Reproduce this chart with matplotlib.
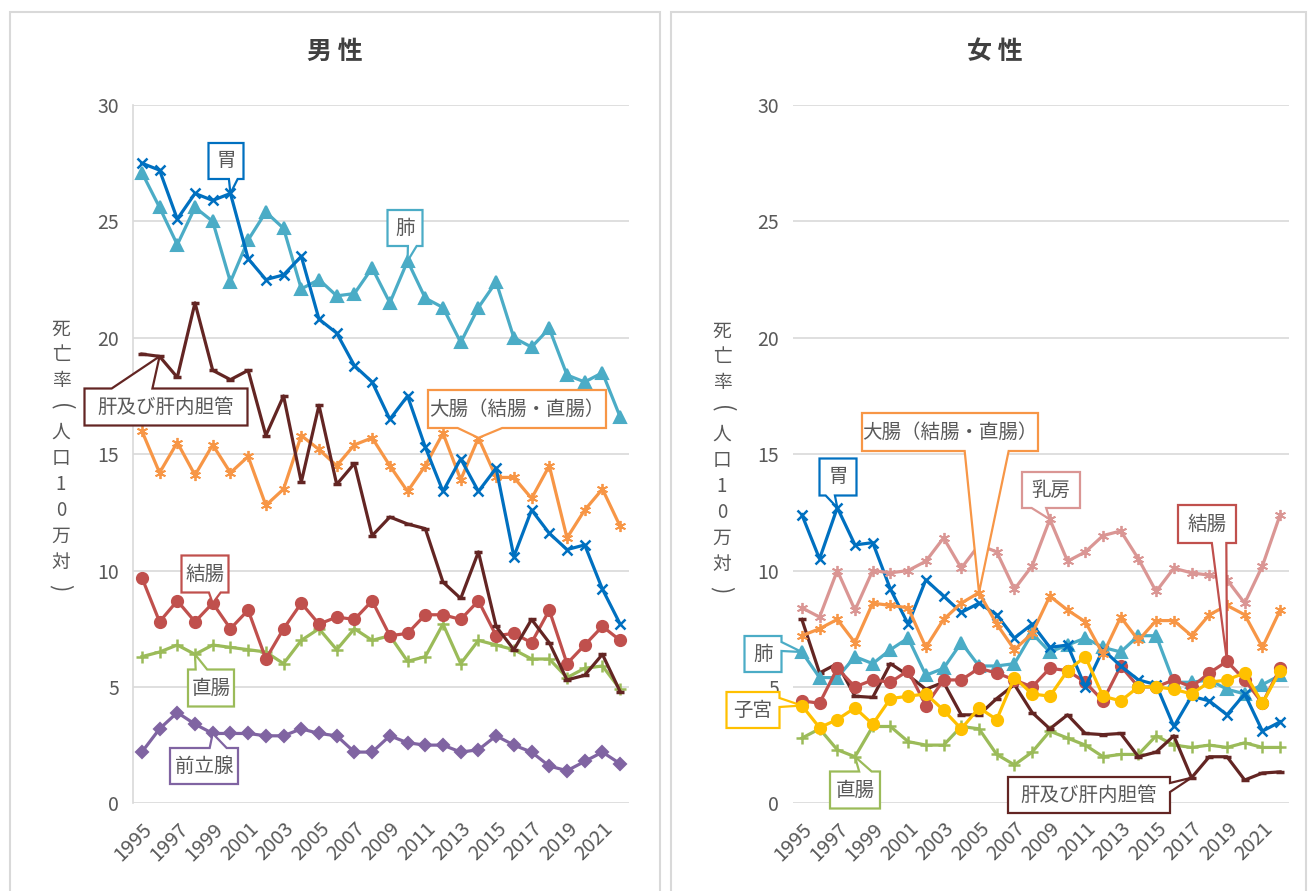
import matplotlib
matplotlib.use("Agg")
import matplotlib.pyplot as plt
from matplotlib.patches import Polygon, Rectangle

plt.rcParams['font.family'] = ['Noto Sans CJK JP', 'DejaVu Sans']

#-------------------------------------------------------------
# 部位別がん死亡率（人口10万対）
years = list(range(1995, 2023))

# 男性
m_stomach = [27.5, 27.2, 25.1, 26.2, 25.9, 26.2, 23.4, 22.5, 22.7, 23.5, 20.8, 20.2, 18.8, 18.1,
             16.5, 17.5, 15.3, 13.4, 14.8, 13.4, 14.4, 10.6, 12.6, 11.6, 10.9, 11.1, 9.2, 7.7]
m_lung = [27.1, 25.6, 24.0, 25.6, 25.0, 22.4, 24.2, 25.4, 24.7, 22.1, 22.5, 21.8, 21.9, 23.0,
          21.5, 23.3, 21.7, 21.3, 19.8, 21.3, 22.4, 20.0, 19.6, 20.4, 18.4, 18.1, 18.5, 16.6]
m_liver = [19.3, 19.2, 18.3, 21.5, 18.6, 18.2, 18.6, 15.8, 17.5, 13.8, 17.1, 13.7, 14.6, 11.5,
           12.3, 12.0, 11.8, 9.5, 8.8, 10.8, 7.6, 6.6, 7.9, 6.9, 5.3, 5.5, 6.4, 4.8]
m_colorectal = [16.0, 14.2, 15.5, 14.1, 15.4, 14.2, 14.9, 12.8, 13.5, 15.8, 15.2, 14.5, 15.4, 15.7,
                14.5, 13.4, 14.5, 15.9, 13.9, 15.7, 14.0, 14.0, 13.1, 14.5, 11.4, 12.6, 13.5, 11.9]
m_colon = [9.7, 7.8, 8.7, 7.8, 8.6, 7.5, 8.3, 6.2, 7.5, 8.6, 7.7, 8.0, 7.9, 8.7,
           7.2, 7.3, 8.1, 8.1, 7.9, 8.7, 7.2, 7.3, 6.9, 8.3, 6.0, 6.8, 7.6, 7.0]
m_rectum = [6.3, 6.5, 6.8, 6.4, 6.8, 6.7, 6.6, 6.5, 6.0, 7.0, 7.5, 6.6, 7.5, 7.0,
            7.2, 6.1, 6.3, 7.7, 6.0, 7.0, 6.8, 6.6, 6.2, 6.2, 5.4, 5.8, 5.9, 4.9]
m_prostate = [2.2, 3.2, 3.9, 3.4, 3.0, 3.0, 3.0, 2.9, 2.9, 3.2, 3.0, 2.9, 2.2, 2.2,
              2.9, 2.6, 2.5, 2.5, 2.2, 2.3, 2.9, 2.5, 2.2, 1.6, 1.4, 1.8, 2.2, 1.7]

# 女性
f_stomach = [12.4, 10.5, 12.7, 11.1, 11.2, 9.2, 7.7, 9.6, 8.9, 8.2, 8.6, 8.1, 7.1, 7.7,
             6.7, 6.8, 5.0, 6.6, 5.9, 5.3, 5.1, 3.3, 4.6, 4.4, 3.8, 4.7, 3.1, 3.5]
f_lung = [6.5, 5.4, 5.4, 6.3, 6.0, 6.6, 7.1, 5.5, 5.8, 6.9, 5.9, 5.9, 6.0, 7.3,
          6.5, 6.8, 7.1, 6.7, 6.5, 7.2, 7.2, 5.2, 5.2, 5.3, 4.9, 4.7, 5.1, 5.5]
f_liver = [7.9, 5.6, 6.0, 4.6, 4.55, 6.0, 5.5, 4.9, 5.2, 3.8, 3.8, 4.5, 5.1, 3.9,
           3.2, 3.8, 3.0, 2.95, 3.0, 2.0, 2.2, 2.9, 1.1, 2.0, 2.0, 1.0, 1.3, 1.35]
f_colorectal = [7.2, 7.5, 7.9, 6.9, 8.6, 8.5, 8.4, 6.7, 7.9, 8.6, 9.05, 7.7, 6.6, 7.3,
                8.9, 8.3, 7.8, 6.4, 8.0, 7.0, 7.85, 7.85, 7.2, 8.1, 8.5, 8.1, 6.7, 8.3]
f_colon = [4.4, 4.3, 5.8, 5.0, 5.3, 5.2, 5.7, 4.2, 5.3, 5.3, 5.8, 5.6, 5.3, 5.0,
           5.8, 5.7, 5.2, 4.4, 5.9, 5.0, 5.0, 5.3, 5.0, 5.6, 6.1, 5.3, 4.3, 5.8]
f_rectum = [2.8, 3.2, 2.3, 2.0, 3.3, 3.3, 2.65, 2.5, 2.5, 3.3, 3.2, 2.1, 1.65, 2.2,
            3.1, 2.8, 2.5, 2.0, 2.1, 2.1, 2.9, 2.5, 2.4, 2.5, 2.4, 2.6, 2.4, 2.4]
f_breast = [8.4, 8.0, 10.0, 8.3, 10.0, 9.9, 10.0, 10.4, 11.4, 10.1, 11.1, 10.8, 9.2, 10.2,
            12.2, 10.4, 10.8, 11.5, 11.7, 10.5, 9.1, 10.1, 9.9, 9.8, 9.6, 8.6, 10.2, 12.4]
f_uterus = [4.2, 3.25, 3.6, 4.1, 3.4, 4.5, 4.6, 4.7, 4.0, 3.2, 4.1, 3.6, 5.4, 4.7,
            4.6, 5.7, 6.3, 4.6, 4.4, 5.0, 5.0, 4.9, 4.7, 5.2, 5.3, 5.6, 4.3, 5.7]

#-------------------------------------------------------------
W, H = 1311, 891
C_STOMACH = '#0070C0'
C_LUNG = '#4BACC6'
C_LIVER = '#632523'
C_COLORECTAL = '#F79646'
C_COLON = '#C0504D'
C_RECTUM = '#9BBB59'
C_PROSTATE = '#8064A2'
C_BREAST = '#DA9694'
C_UTERUS = '#FFC000'
GRAY = '#595959'
ASTER = (6, 2, 0)
YLABEL = "死亡率(人口10万対)"


def px_axes(left, right, top=105, bottom=803.3):
    """axes rectangle in figure fraction from pixel edges"""
    return [left / W, 1 - bottom / H, (right - left) / W, (bottom - top) / H]


def vertical_label(fig, text, x, ytop, step):
    """stacked (tategaki) axis title, one character per row"""
    for i, ch in enumerate(text):
        if ch in "()":
            fig.text(x / W, 1 - (ytop + i * step) / H, ch, ha='center', va='center',
                     fontsize=16, color=GRAY, rotation=-90, rotation_mode='anchor')
        else:
            fig.text(x / W, 1 - (ytop + i * step) / H, ch, ha='center', va='center',
                     fontsize=13.5, color=GRAY)


def callout(fig, ax, text, box, target, color):
    """Excel-style rectangular callout with a wedge pointing at a data point.

    :param: box, (xc, yc, w, h) in pixels from the top-left of the figure
    :param: target, (year, value) in data coordinates
    """
    xc, yc, w, h = box
    cx, cy = xc, H - yc
    L, R, B, T = cx - w / 2, cx + w / 2, cy - h / 2, cy + h / 2
    px, py = ax.transData.transform(target)
    dx, dy = px - cx, py - cy
    if dx <= 0:
        bx = (L + w / 6, L + 5 * w / 12)
    else:
        bx = (L + 7 * w / 12, L + 5 * w / 6)
    if dy > 0:
        by = (T - h / 6, T - 5 * h / 12)
    else:
        by = (T - 7 * h / 12, T - 5 * h / 6)
    pts = [(L, T)]
    vertical = abs(dy) * w > abs(dx) * h
    if vertical and dy > 0:
        pts += [(bx[0], T), (px, py), (bx[1], T)]
    pts.append((R, T))
    if not vertical and dx > 0:
        pts += [(R, by[0]), (px, py), (R, by[1])]
    pts.append((R, B))
    if vertical and dy <= 0:
        pts += [(bx[1], B), (px, py), (bx[0], B)]
    pts.append((L, B))
    if not vertical and dx <= 0:
        pts += [(L, by[1]), (px, py), (L, by[0])]
    pts = [(x / W, y / H) for (x, y) in pts]
    fig.add_artist(Polygon(pts, closed=True, facecolor='white', edgecolor=color,
                           linewidth=1.6, transform=fig.transFigure, zorder=10))
    fig.text(cx / W, cy / H, text, ha='center', va='center', fontsize=14,
             color=GRAY, zorder=11)


def style_axes(ax, show_left):
    ax.set_xlim(years[0] - 0.5, years[-1] + 0.5)
    ax.set_ylim(0, 30)
    ax.set_yticks(range(0, 31, 5))
    ax.set_xticks(years[::2])
    ax.set_xticklabels([str(y) for y in years[::2]], rotation=45, ha='right',
                       va='top', rotation_mode='anchor', fontsize=14.5)
    ax.tick_params(length=0, labelcolor=GRAY)
    ax.tick_params(axis='y', labelsize=14, pad=10)
    ax.tick_params(axis='x', pad=11)
    ax.grid(axis='y', color='#D9D9D9', linewidth=1.2)
    ax.set_axisbelow(True)
    for side in ['top', 'right', 'bottom']:
        ax.spines[side].set_visible(False)
    ax.spines['left'].set_visible(show_left)
    ax.spines['left'].set_color('#D9D9D9')
    ax.spines['left'].set_linewidth(1.2)
    ax.patch.set_alpha(0)


def series(ax, values, color, marker, ms, **kw):
    ax.plot(years, values, color=color, linewidth=2.3, marker=marker,
            markersize=ms, markerfacecolor=color, markeredgecolor=color,
            markeredgewidth=kw.pop('mew', 1.5), **kw)


#-------------------------------------------------------------
def main():
    fig = plt.figure(figsize=(W / 100, H / 100), dpi=100)

    # panel frames
    fig.add_artist(Rectangle((10 / W, -0.01), 650 / W, 1 - 12 / H + 0.01, transform=fig.transFigure,
                             facecolor='none', edgecolor='#D9D9D9', linewidth=1.5))
    fig.add_artist(Rectangle((671 / W, -0.01), 635 / W, 1 - 12 / H + 0.01, transform=fig.transFigure,
                             facecolor='none', edgecolor='#D9D9D9', linewidth=1.5))

    yi = lambda y: years.index(y)

    #--- 男性
    axm = fig.add_axes(px_axes(133, 629))
    style_axes(axm, True)
    series(axm, m_prostate, C_PROSTATE, 'D', 6.5)
    series(axm, m_rectum, C_RECTUM, '+', 8, mew=1.8)
    series(axm, m_colon, C_COLON, 'o', 8)
    series(axm, m_colorectal, C_COLORECTAL, ASTER, 8, mew=1.3)
    series(axm, m_liver, C_LIVER, '_', 6, mew=2.5)
    series(axm, m_lung, C_LUNG, '^', 8)
    series(axm, m_stomach, C_STOMACH, 'x', 7, mew=1.8)
    fig.text(335 / W, 1 - 52 / H, "男 性", ha='center', va='center', fontsize=18,
             fontweight='bold', color='#404040')
    vertical_label(fig, YLABEL, 61, 329, 25.9)

    callout(fig, axm, "胃", (226, 161, 35, 36), (2000, m_stomach[yi(2000)]), C_STOMACH)
    callout(fig, axm, "肺", (405, 228, 35, 36), (2010, m_lung[yi(2010)]), C_LUNG)
    callout(fig, axm, "肝及び肝内胆管", (166, 407, 163, 37), (1996, m_liver[yi(1996)]), C_LIVER)
    callout(fig, axm, "大腸（結腸・直腸）", (517, 409, 178, 38),
            (2014, m_colorectal[yi(2014)]), C_COLORECTAL)
    callout(fig, axm, "結腸", (205, 574, 47, 37), (1999, m_colon[yi(1999)]), C_COLON)
    callout(fig, axm, "直腸", (211, 688, 46, 37), (1998, m_rectum[yi(1998)]), C_RECTUM)
    callout(fig, axm, "前立腺", (204, 766, 68, 36), (1999, m_prostate[yi(1999)]), C_PROSTATE)

    #--- 女性
    axf = fig.add_axes(px_axes(793, 1289))
    style_axes(axf, False)
    series(axf, f_rectum, C_RECTUM, '+', 8, mew=1.8)
    series(axf, f_liver, C_LIVER, '_', 6, mew=2.5)
    series(axf, f_lung, C_LUNG, '^', 8)
    series(axf, f_colon, C_COLON, 'o', 8)
    series(axf, f_stomach, C_STOMACH, 'x', 7, mew=1.8)
    series(axf, f_colorectal, C_COLORECTAL, ASTER, 8, mew=1.3)
    series(axf, f_breast, C_BREAST, ASTER, 8, mew=1.3)
    series(axf, f_uterus, C_UTERUS, 'o', 8)
    fig.text(995 / W, 1 - 52 / H, "女 性", ha='center', va='center', fontsize=18,
             fontweight='bold', color='#404040')
    vertical_label(fig, YLABEL, 722, 331, 25.9)

    callout(fig, axf, "大腸（結腸・直腸）", (950, 432, 176, 38),
            (2005, f_colorectal[yi(2005)]), C_COLORECTAL)
    callout(fig, axf, "胃", (838, 477, 37, 37), (1997, f_stomach[yi(1997)]), C_STOMACH)
    callout(fig, axf, "乳房", (1051, 490, 58, 36), (2009, f_breast[yi(2009)]), C_BREAST)
    callout(fig, axf, "結腸", (1207, 524, 58, 38), (2019, f_colon[yi(2019)]), C_COLON)
    callout(fig, axf, "肺", (763, 654, 37, 36), (1995, f_lung[yi(1995)]), C_LUNG)
    callout(fig, axf, "子宮", (753, 710, 53, 36), (1995, f_uterus[yi(1995)]), C_UTERUS)
    callout(fig, axf, "直腸", (855, 790, 50, 37), (1998, f_rectum[yi(1998)]), C_RECTUM)
    callout(fig, axf, "肝及び肝内胆管", (1089, 795, 162, 36), (2017, f_liver[yi(2017)]), C_LIVER)

    fig.savefig("out.png", dpi=100, facecolor='white')
    plt.close(fig)


#-------------------------------------------------------------
if __name__ == "__main__":
    main()
